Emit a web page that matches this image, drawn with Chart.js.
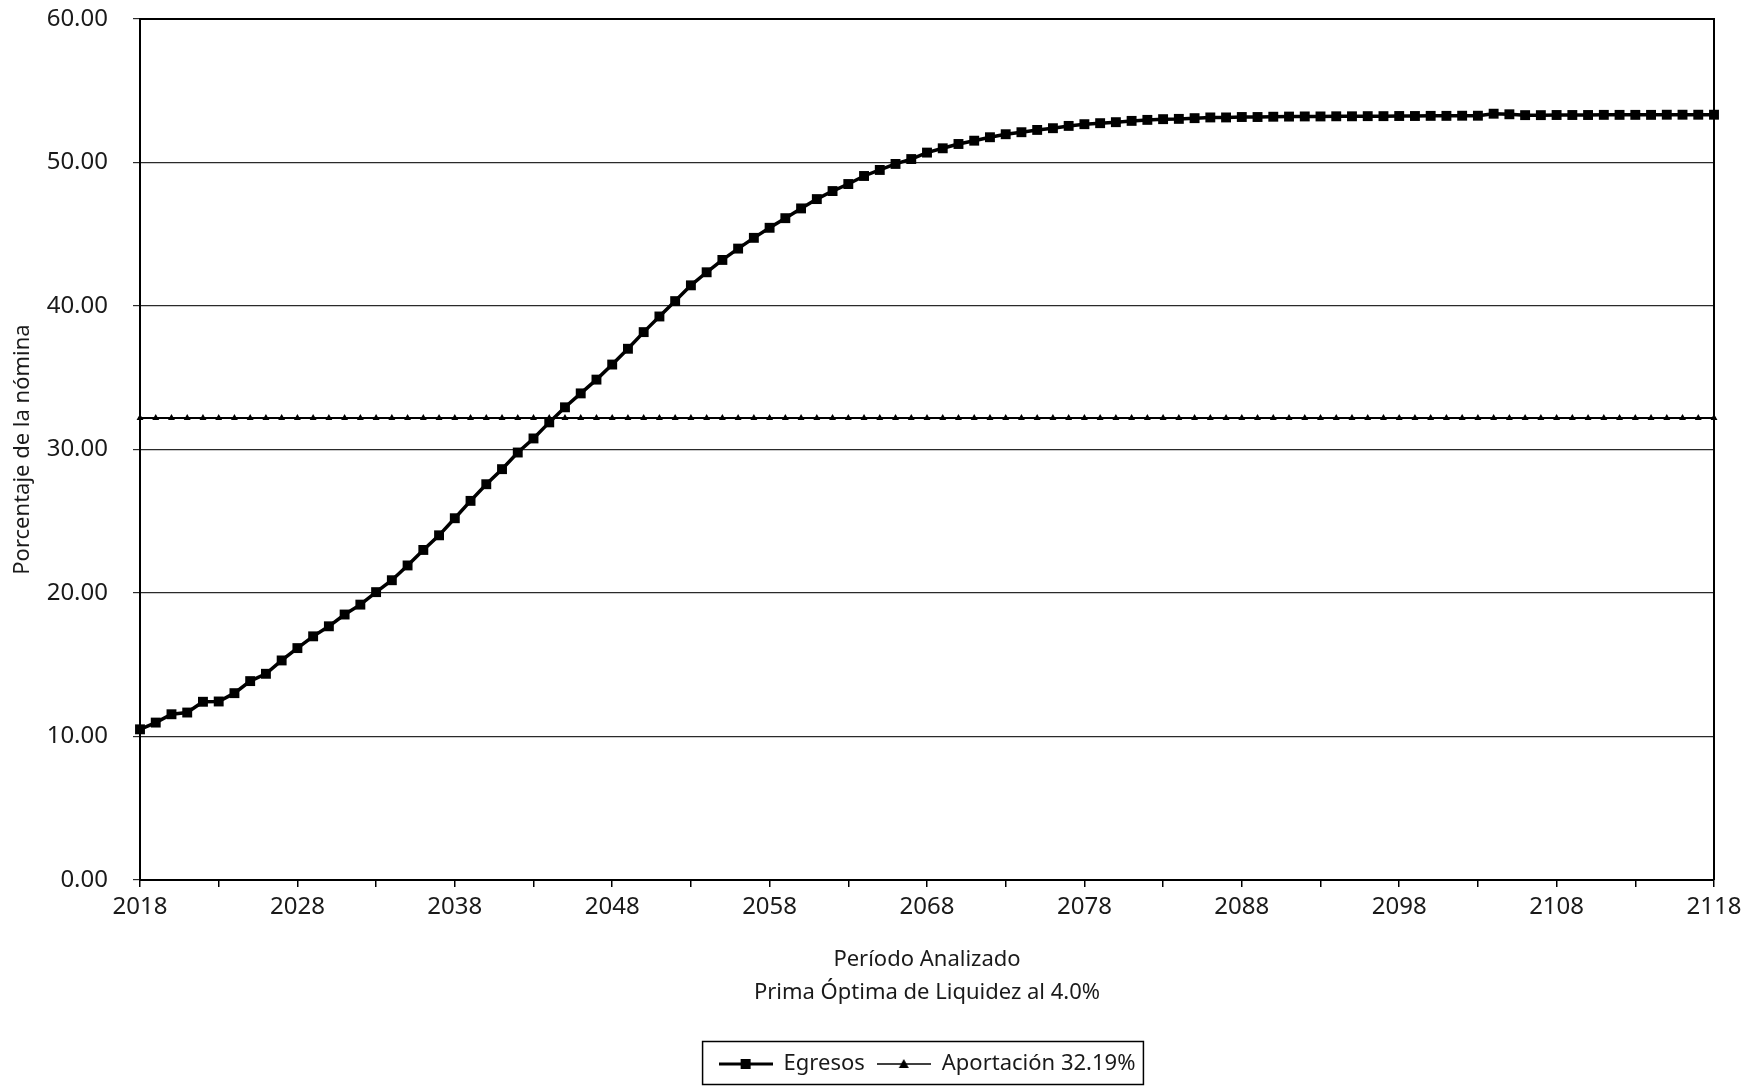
<!DOCTYPE html>
<html lang="es">
<head>
<meta charset="UTF-8">
<title>Egresos vs Aportación</title>
<script src="https://cdn.jsdelivr.net/npm/chart.js"></script>
<style>
  html, body { margin: 0; padding: 0; background: #fff; }
  #wrap { width: 1760px; height: 1087px; }
</style>
</head>
<body>
<div id="wrap"><canvas id="chart" width="1760" height="1087"></canvas></div>
<script>
// años analizados
const years = [
  2018, 2019, 2020, 2021, 2022, 2023, 2024, 2025, 2026, 2027,
  2028, 2029, 2030, 2031, 2032, 2033, 2034, 2035, 2036, 2037,
  2038, 2039, 2040, 2041, 2042, 2043, 2044, 2045, 2046, 2047,
  2048, 2049, 2050, 2051, 2052, 2053, 2054, 2055, 2056, 2057,
  2058, 2059, 2060, 2061, 2062, 2063, 2064, 2065, 2066, 2067,
  2068, 2069, 2070, 2071, 2072, 2073, 2074, 2075, 2076, 2077,
  2078, 2079, 2080, 2081, 2082, 2083, 2084, 2085, 2086, 2087,
  2088, 2089, 2090, 2091, 2092, 2093, 2094, 2095, 2096, 2097,
  2098, 2099, 2100, 2101, 2102, 2103, 2104, 2105, 2106, 2107,
  2108, 2109, 2110, 2111, 2112, 2113, 2114, 2115, 2116, 2117,
  2118
];

// egresos (% de la nómina)
const egresos = [
  10.50, 10.97, 11.55, 11.67, 12.42, 12.44, 13.02, 13.86, 14.37, 15.30,
  16.16, 16.98, 17.68, 18.50, 19.19, 20.06, 20.89, 21.92, 23.00, 24.02,
  25.21, 26.42, 27.58, 28.63, 29.79, 30.77, 31.89, 32.94, 33.91, 34.87,
  35.92, 37.02, 38.18, 39.27, 40.34, 41.44, 42.35, 43.21, 44.00, 44.75,
  45.45, 46.12, 46.80, 47.45, 48.01, 48.50, 49.06, 49.48, 49.90, 50.24,
  50.69, 50.99, 51.29, 51.52, 51.76, 51.97, 52.11, 52.27, 52.39, 52.55,
  52.67, 52.74, 52.81, 52.90, 52.97, 53.02, 53.04, 53.09, 53.14, 53.14,
  53.17, 53.17, 53.19, 53.20, 53.21, 53.21, 53.22, 53.22, 53.23, 53.23,
  53.24, 53.24, 53.25, 53.25, 53.26, 53.26, 53.40, 53.36, 53.30, 53.30,
  53.31, 53.31, 53.31, 53.32, 53.32, 53.32, 53.32, 53.33, 53.33, 53.33,
  53.33
];

// aportación 32.19%
const aportacion = [
  32.19, 32.19, 32.19, 32.19, 32.19, 32.19, 32.19, 32.19, 32.19, 32.19,
  32.19, 32.19, 32.19, 32.19, 32.19, 32.19, 32.19, 32.19, 32.19, 32.19,
  32.19, 32.19, 32.19, 32.19, 32.19, 32.19, 32.19, 32.19, 32.19, 32.19,
  32.19, 32.19, 32.19, 32.19, 32.19, 32.19, 32.19, 32.19, 32.19, 32.19,
  32.19, 32.19, 32.19, 32.19, 32.19, 32.19, 32.19, 32.19, 32.19, 32.19,
  32.19, 32.19, 32.19, 32.19, 32.19, 32.19, 32.19, 32.19, 32.19, 32.19,
  32.19, 32.19, 32.19, 32.19, 32.19, 32.19, 32.19, 32.19, 32.19, 32.19,
  32.19, 32.19, 32.19, 32.19, 32.19, 32.19, 32.19, 32.19, 32.19, 32.19,
  32.19, 32.19, 32.19, 32.19, 32.19, 32.19, 32.19, 32.19, 32.19, 32.19,
  32.19, 32.19, 32.19, 32.19, 32.19, 32.19, 32.19, 32.19, 32.19, 32.19,
  32.19
];

const seriesNames = ['Egresos', 'Aportación 32.19%'];
const xTitle = ['Período Analizado', 'Prima Óptima de Liquidez al 4.0%'];
const yTitle = 'Porcentaje de la nómina';

const FONT = "'Noto Sans', 'DejaVu Sans', sans-serif";
const INK = '#1a1a1a';

// iconos de la leyenda: línea con marcador, estilo Excel
function legendIcon(kind) {
  const c = document.createElement('canvas');
  c.width = 54; c.height = 14;
  const g = c.getContext('2d');
  g.strokeStyle = '#000';
  g.fillStyle = '#000';
  g.lineWidth = kind === 'rect' ? 3 : 1.5;
  g.beginPath(); g.moveTo(0, 7); g.lineTo(54, 7); g.stroke();
  if (kind === 'rect') {
    g.fillRect(22, 2, 10, 10);
  } else {
    g.beginPath(); g.moveTo(27, 2); g.lineTo(32, 11); g.lineTo(22, 11); g.closePath(); g.fill();
  }
  return c;
}
const icons = [legendIcon('rect'), legendIcon('triangle')];

// marco superior/derecho del área de trazado y recuadro de la leyenda
const framePlugin = {
  id: 'frame',
  afterDraw(chart) {
    const {ctx, chartArea: a} = chart;
    ctx.save();
    ctx.strokeStyle = '#000';
    ctx.lineWidth = 2;
    ctx.beginPath();
    ctx.moveTo(a.left, a.top); ctx.lineTo(a.right, a.top); ctx.lineTo(a.right, a.bottom);
    ctx.stroke();
    const boxes = chart.legend.legendHitBoxes;
    if (boxes && boxes.length) {
      const l = Math.min(...boxes.map(b => b.left)) - 16;
      const r = Math.max(...boxes.map(b => b.left + b.width)) + 8;
      const t = chart.legend.top;
      const bt = chart.legend.bottom;
      ctx.lineWidth = 1.5;
      ctx.strokeRect(l, t + 0.5, r - l, bt - t - 1);
    }
    ctx.restore();
  }
};

new Chart(document.getElementById('chart'), {
  type: 'line',
  data: {
    labels: years,
    datasets: [
      {
        label: seriesNames[0],
        data: egresos,
        borderColor: '#000',
        backgroundColor: '#000',
        borderWidth: 3.5,
        pointStyle: 'rect',
        pointRadius: 7,
        pointBorderWidth: 0,
        tension: 0
      },
      {
        label: seriesNames[1],
        data: aportacion,
        borderColor: '#000',
        backgroundColor: '#000',
        borderWidth: 2,
        pointStyle: 'triangle',
        pointRadius: 4,
        pointBorderWidth: 0,
        tension: 0
      }
    ]
  },
  options: {
    responsive: false,
    animation: false,
    layout: { padding: { left: 0, right: 46, top: 19, bottom: 2 } },
    scales: {
      x: {
        type: 'category',
        offset: false,
        afterFit: s => { s.height = 161; },
        border: { display: true, color: '#000', width: 2 },
        grid: {
          drawOnChartArea: false,
          drawTicks: true,
          tickLength: 7,
          lineWidth: 1.5,
          color: c => (c.index % 5 === 0 ? '#000' : 'rgba(0,0,0,0)')
        },
        ticks: {
          autoSkip: false,
          maxRotation: 0,
          minRotation: 0,
          padding: 6,
          color: INK,
          font: { family: FONT, size: 24 },
          callback: (v, i) => (i % 10 === 0 ? String(years[i]) : '')
        },
        title: {
          display: true,
          text: xTitle,
          color: INK,
          font: { family: FONT, size: 22, lineHeight: 1.5 },
          padding: { top: 0, bottom: 32 }
        }
      },
      y: {
        min: 0,
        max: 60,
        afterFit: s => { s.width = 140; s.paddingTop = 15; s.paddingBottom = 15; },
        border: { display: true, color: '#000', width: 2 },
        grid: { color: '#2a2a2a', lineWidth: 1.2, tickLength: 7 },
        ticks: {
          stepSize: 10,
          padding: 25,
          color: INK,
          font: { family: FONT, size: 24 },
          callback: v => v.toFixed(2)
        },
        title: {
          display: true,
          text: yTitle,
          color: INK,
          font: { family: FONT, size: 22 },
          padding: { top: 10, bottom: 0 }
        }
      }
    },
    plugins: {
      tooltip: { enabled: false },
      legend: {
        position: 'bottom',
        fullSize: false,
        labels: {
          usePointStyle: true,
          pointStyleWidth: 54,
          padding: 12,
          color: INK,
          font: { family: FONT, size: 22 },
          generateLabels: chart =>
            Chart.defaults.plugins.legend.labels.generateLabels(chart).map((it, i) => {
              it.pointStyle = icons[i];
              return it;
            })
        }
      }
    }
  },
  plugins: [framePlugin]
});
</script>
</body>
</html>
